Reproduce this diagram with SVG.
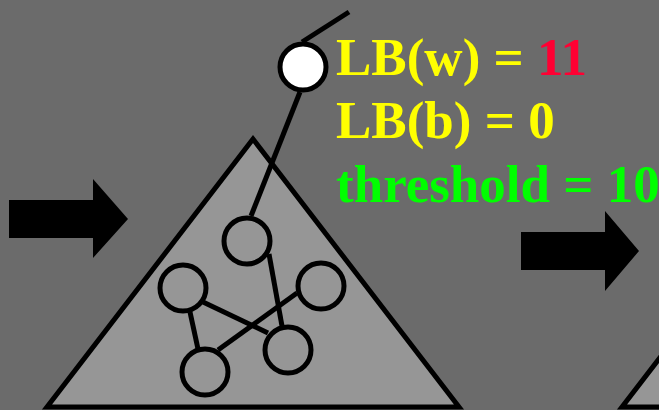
<svg xmlns="http://www.w3.org/2000/svg" width="659" height="410" viewBox="0 0 659 410">
<style>
.tri{fill:#969696;stroke:#000;stroke-width:5;stroke-linejoin:miter}
.n{fill:none;stroke:#000;stroke-width:5}
.e{stroke:#000;stroke-width:5;fill:none}
.t{font-family:"Liberation Serif","Times New Roman",serif;font-weight:bold;font-size:53px}
</style>
<rect width="659" height="410" fill="#6b6b6b"/>
<g id="triangle1"><polygon class="tri" points="253,139 47,407 459,407"/></g>
<g id="triangle2"><polygon class="tri" points="828,139 622,407 1034,407"/></g>
<g id="arrow-left"><polygon fill="#000" points="9,200 93,200 93,179 128,219 93,258 93,238 9,238"/></g>
<g id="arrow-right"><polygon fill="#000" points="521,232 605,232 605,211 639,251 605,291 605,270 521,270"/></g>
<g id="connectors">
<line class="e" x1="302" y1="42" x2="349" y2="12"/>
<line class="e" x1="300" y1="92" x2="251" y2="216"/>
<line class="e" x1="269" y1="254" x2="282" y2="326"/>
<line class="e" x1="203" y1="302" x2="268" y2="333"/>
<line class="e" x1="297" y1="293" x2="218" y2="350"/>
<line class="e" x1="190" y1="312" x2="198" y2="349"/>
</g>
<g id="node-w"><circle cx="303" cy="67" r="23" fill="#fff" stroke="#000" stroke-width="5"/></g>
<g id="node1"><circle class="n" cx="247" cy="241" r="23"/></g>
<g id="node2"><circle class="n" cx="183" cy="288" r="23"/></g>
<g id="node3"><circle class="n" cx="321" cy="286" r="23"/></g>
<g id="node4"><circle class="n" cx="205" cy="372" r="23"/></g>
<g id="node5"><circle class="n" cx="288" cy="350" r="23"/></g>
<g id="labels">
<text class="t" x="336" y="75" fill="#ffff00">LB(w) = <tspan fill="#ff0033">11</tspan></text>
<text class="t" x="336" y="138" fill="#ffff00">LB(b) = 0</text>
<text class="t" x="336" y="202" fill="#00ff00">threshold = 10</text>
</g>
</svg>
